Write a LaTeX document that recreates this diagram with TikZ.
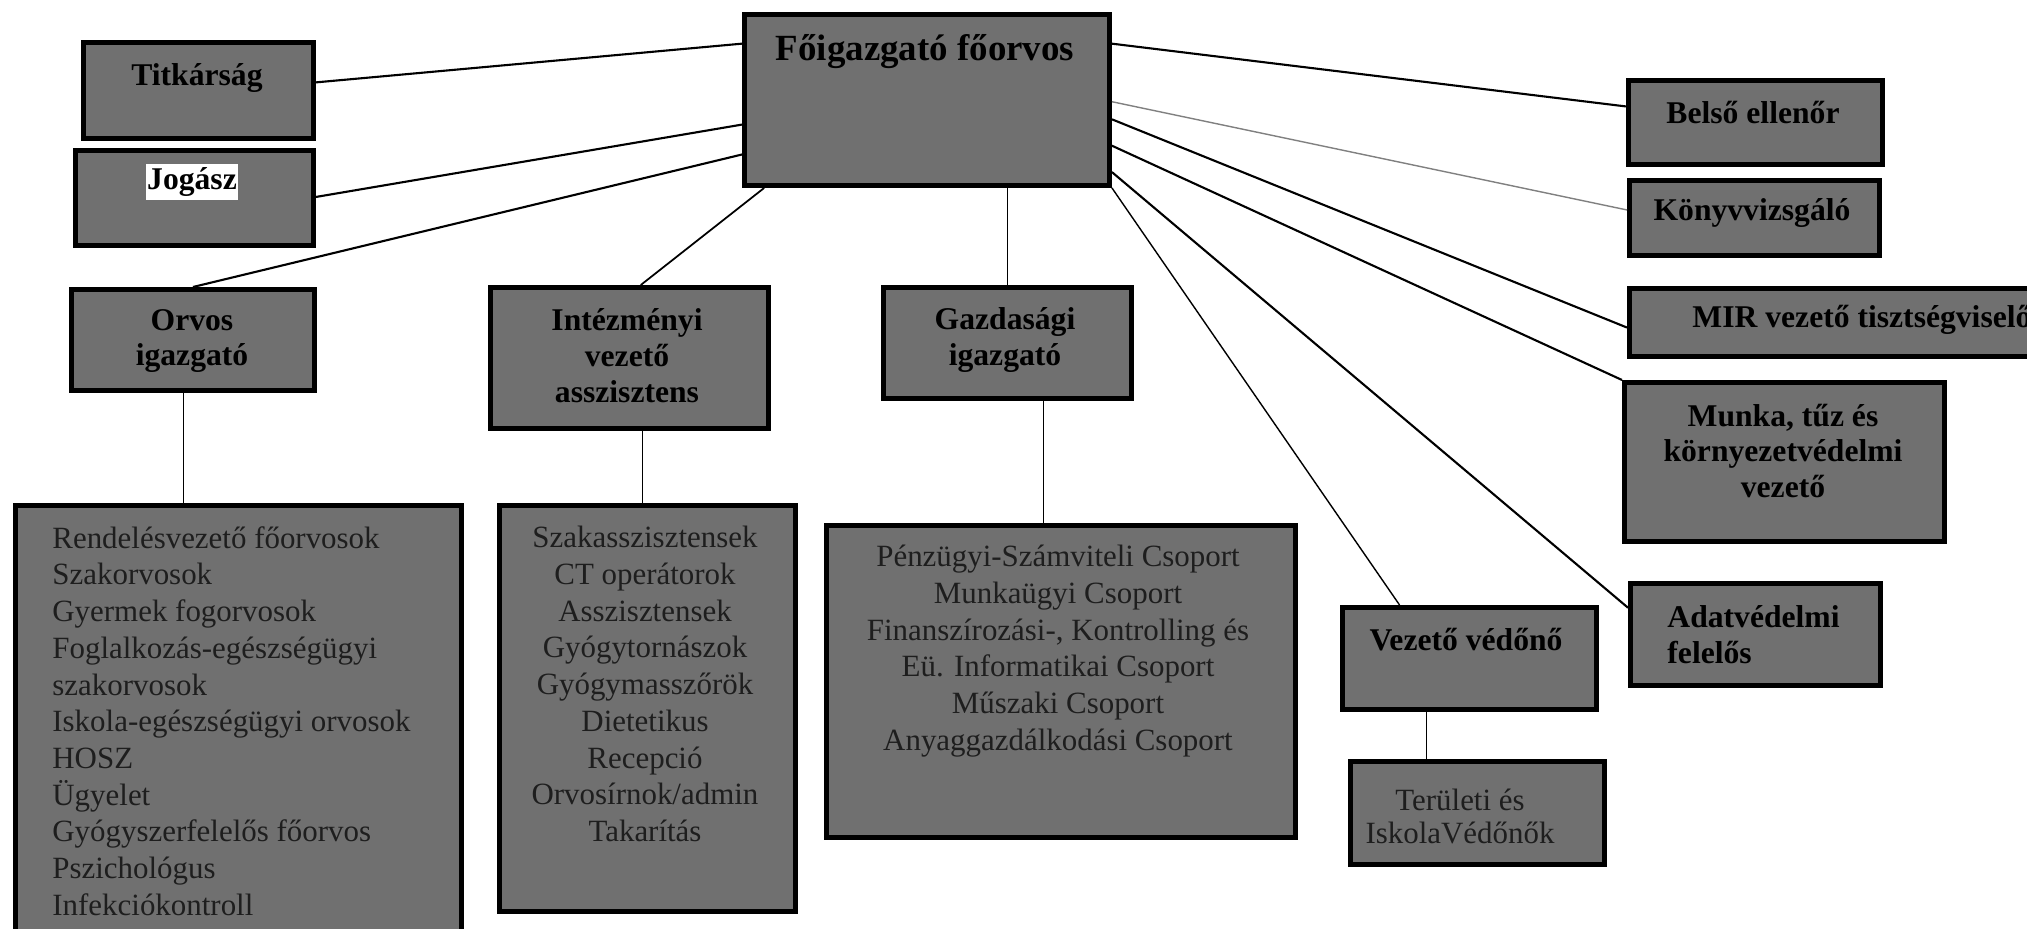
\documentclass[tikz,border=0pt]{standalone}
\usepackage{fontspec}
\setmainfont{Liberation Serif}
\usepackage{xcolor}
\definecolor{boxgray}{RGB}{112,112,112}
\definecolor{listgray}{RGB}{30,30,30}
\usepackage{tikz}
\usetikzlibrary{positioning, calc}

\begin{document}
\begin{tikzpicture}[x=0.1mm, y=-0.1mm,
  box/.style={draw=black, line width=1.4pt, fill=boxgray, inner sep=0pt, anchor=north west},
  head/.style={font=\fontsize{9}{10.2}\selectfont\bfseries, align=center, text=black},
  list/.style={font=\fontsize{8.8}{10.45}\selectfont, text=listgray},
  link/.style={line width=0.6pt}]
  \useasboundingbox (0,0) rectangle (2027,929);

  % Top level
  \node[box, minimum width=36.5mm, minimum height=17.1mm] (fo) at (742,12) {};
  \node[head, font=\fontsize{10.5}{12}\selectfont\bfseries] (fo-t) at (925,52) {Főigazgató főorvos};

  % Staff on the left
  \node[box, minimum width=23mm, minimum height=9.6mm] (tit) at (81,40) {};
  \node[head] (tit-t) at (197,78) {Titkárság};
  \node[box, minimum width=23.8mm, minimum height=9.5mm] (jog) at (73,148) {};
  \node[head, fill=white, inner xsep=0.15mm, inner ysep=0.35mm] (jog-t) at (192,182) {Jogász};

  % Directors
  \node[box, minimum width=24.3mm, minimum height=10.1mm] (orv) at (69,287) {};
  \node[head] (orv-t) at (192,341) {Orvos\\igazgató};
  \node[box, minimum width=27.8mm, minimum height=14.1mm] (int) at (488,285) {};
  \node[head] (int-t) at (627,356) {Intézményi\\vezető\\asszisztens};
  \node[box, minimum width=24.8mm, minimum height=11.1mm] (gaz) at (881,285) {};
  \node[head] (gaz-t) at (1005,340) {Gazdasági\\igazgató};

  % Staff on the right
  \node[box, minimum width=25.4mm, minimum height=8.4mm] (bel) at (1626,78) {};
  \node[head] (bel-t) at (1753,113) {Belső ellenőr};
  \node[box, minimum width=25mm, minimum height=7.5mm] (kon) at (1627,178) {};
  \node[head] (kon-t) at (1752,213) {Könyvvizsgáló};
  \node[box, minimum width=43.3mm, minimum height=6.8mm] (mir) at (1627,286) {};
  \node[head, anchor=west] (mir-t) at (1680,320) {MIR vezető tisztségviselő};
  \node[box, minimum width=32mm, minimum height=15.9mm] (mun) at (1622,380) {};
  \node[head] (mun-t) at (1783,451) {Munka, tűz és\\környezetvédelmi\\vezető};
  \node[box, minimum width=25mm, minimum height=10.2mm] (adat) at (1628,581) {};
  \node[head, align=left, anchor=west] (adat-t) at (1655,635) {Adatvédelmi\\felelős};
  \node[box, minimum width=25.4mm, minimum height=10.2mm] (vv) at (1340,605) {};
  \node[head] (vv-t) at (1466,640) {Vezető védőnő};

  % Groups
  \node[box, minimum width=44.6mm, minimum height=43.2mm] (orl) at (13,503) {};
  \node[list, align=left, anchor=west] (orl-t) at (40,721) {Rendelésvezető főorvosok\\Szakorvosok\\Gyermek fogorvosok\\Foglalkozás-egészségügyi\\szakorvosok\\Iskola-egészségügyi orvosok\\HOSZ\\Ügyelet\\Gyógyszerfelelős főorvos\\Pszichológus\\Infekciókontroll};
  \node[box, minimum width=29.6mm, minimum height=40.6mm] (szak) at (497,503) {};
  \node[list, align=center] (szak-t) at (645,684) {Szakasszisztensek\\CT operátorok\\Asszisztensek\\Gyógytornászok\\Gyógymasszőrök\\Dietetikus\\Recepció\\Orvosírnok/admin\\Takarítás};
  \node[box, minimum width=46.9mm, minimum height=31.2mm] (pen) at (824,523) {};
  \node[list, align=center] (pen-t) at (1058,651) {Pénzügyi-Számviteli Csoport\\Munkaügyi Csoport\\Finanszírozási-, Kontrolling és\\Eü. Informatikai Csoport\\Műszaki Csoport\\Anyaggazdálkodási Csoport};
  \node[box, minimum width=25.4mm, minimum height=10.3mm] (ter) at (1348,759) {};
  \node[list, align=center, font=\fontsize{8.8}{9.4}\selectfont] (ter-t) at (1460,816) {Területi és\\IskolaVédőnők};

  % Lines from the director
  \draw[link] ($(tit.north east)!.42!(tit.south east)$) -- ($(fo.north west)!.18!(fo.south west)$);
  \draw[link] ($(jog.north east)!.49!(jog.south east)$) -- ($(fo.north west)!.64!(fo.south west)$);
  \draw[link] (orv.north) -- ($(fo.north west)!.81!(fo.south west)$);
  \draw[link, line width=0.5pt] ($(int.north west)!.54!(int.north east)$) -- ($(fo.south west)!.06!(fo.south east)$);
  \draw[link, line width=0.5pt] (gaz.north) -- (gaz.north |- fo.south);
  \draw[link] ($(fo.north east)!.18!(fo.south east)$) -- ($(bel.north west)!.32!(bel.south west)$);
  \draw[link, line width=0.4pt, gray] ($(fo.north east)!.51!(fo.south east)$) -- ($(kon.north west)!.4!(kon.south west)$);
  \draw[link] ($(fo.north east)!.61!(fo.south east)$) -- ($(mir.north west)!.57!(mir.south west)$);
  \draw[link] ($(fo.north east)!.76!(fo.south east)$) -- (mun.north west);
  \draw[link] ($(fo.north east)!.91!(fo.south east)$) -- ($(adat.north west)!.25!(adat.south west)$);
  \draw[link, line width=0.4pt] (fo.south east) -- ($(vv.north west)!.23!(vv.north east)$);

  % Lines down to the groups
  \coordinate (orv-d) at ($(orv.south)+(-9.5,0)$);
  \coordinate (int-d) at ($(int.south)+(13,0)$);
  \coordinate (gaz-d) at ($(gaz.south)+(36,0)$);
  \coordinate (vv-d) at ($(vv.south)+(-43,0)$);
  \draw[link, line width=0.4pt] (orv-d) -- (orv-d |- orl.north);
  \draw[link, line width=0.5pt] (int-d) -- (int-d |- szak.north);
  \draw[link, line width=0.4pt] (gaz-d) -- (gaz-d |- pen.north);
  \draw[link, line width=0.4pt] (vv-d) -- (vv-d |- ter.north);
\end{tikzpicture}
\end{document}
